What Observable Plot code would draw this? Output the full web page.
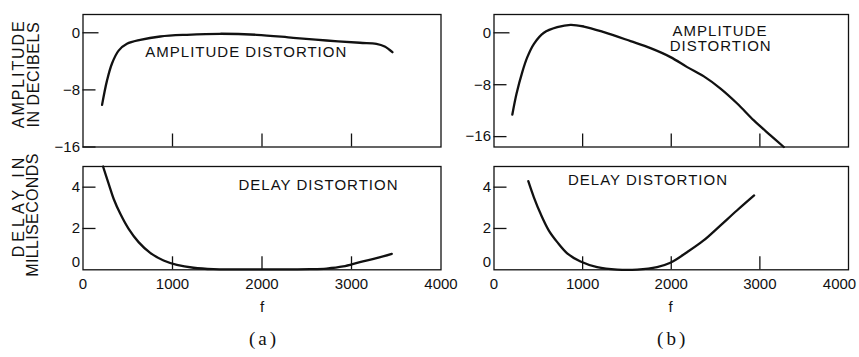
<!DOCTYPE html>
<html>
<head>
<meta charset="utf-8">
<script src="https://cdn.jsdelivr.net/npm/d3@7"></script>
<script src="https://cdn.jsdelivr.net/npm/@observablehq/plot@0.6"></script>
<style>
  body { margin: 0; background: #fff; }
  #fig { position: relative; width: 859px; height: 357px; }
  #fig svg { position: absolute; left: 0; top: 0; overflow: visible; }
</style>
</head>
<body>
<div id="fig"></div>
<script>
// (a) amplitude distortion, dB vs frequency (Hz)
const ampFreqA = [213, 268, 324, 398, 491, 640, 863, 1160, 1532, 1941, 2349, 2721, 3093, 3278, 3371, 3457];
const ampDbA   = [-10.1, -6.7, -4.3, -2.5, -1.55, -1.0, -0.52, -0.28, -0.14, -0.28, -0.7, -1.08, -1.4, -1.54, -1.92, -2.72];

// (b) amplitude distortion
const ampFreqB = [207, 254, 319, 376, 451, 563, 714, 864, 1014, 1240, 1541, 1766, 1992, 2180, 2368, 2556, 2744, 2932, 3120, 3270];
const ampDbB   = [-12.6, -9.4, -6.05, -3.75, -1.7, 0, 0.86, 1.23, 0.97, 0.1, -1.29, -2.37, -3.75, -5.29, -6.72, -8.6, -10.9, -13.5, -15.8, -17.6];

// (a) delay distortion, ms
const delayFreqA = [224, 287, 342, 417, 510, 621, 751, 900, 1049, 1234, 1457, 1700, 2000, 2300, 2535, 2721, 2907, 3093, 3279, 3450];
const delayMsA   = [5.0, 4.16, 3.44, 2.71, 1.98, 1.34, 0.82, 0.45, 0.24, 0.1, 0.03, 0.02, 0.02, 0.02, 0.03, 0.06, 0.16, 0.37, 0.56, 0.77];

// (b) delay distortion
const delayFreqB = [387, 450, 526, 619, 714, 826, 976, 1164, 1390, 1615, 1840, 1990, 2178, 2365, 2553, 2741, 2935];
const delayMsB   = [4.29, 3.51, 2.71, 1.9, 1.34, 0.8, 0.4, 0.13, 0.01, 0.01, 0.13, 0.34, 0.85, 1.42, 2.14, 2.87, 3.6];

// axis ticks
const freqTicks = [0, 1000, 2000, 3000, 4000];
const innerFreqTicks = [1000, 2000, 3000];
const dbTicks = [0, -8, -16];
const msTicks = [0, 2, 4];

const W = 859, H = 357;
const INK = "#111";
const SANS = "Liberation Sans, Arial, Helvetica, sans-serif";
const SERIF = "Liberation Serif, Times New Roman, serif";

const rows = (fs, vs) => fs.map((f, i) => ({f, v: vs[i]}));
const plain = d => String(d);

// letter spacing applied to specific labels after rendering
const spacing = {
  "AMPLITUDE DISTORTION": 1, "AMPLITUDE": 1, "DISTORTION": 1, "DELAY DISTORTION": 1,
  "(a)": 3, "(b)": 3
};
const titleSpacing = {"AMPLITUDE": 1.9, "IN DECIBELS": 0.55, "DELAY IN": 4, "MILLISECONDS": 0.35};

function label(text, dx, dy, opts = {}) {
  return Plot.text([text], {
    text: d => d, frameAnchor: "top-left", dx, dy,
    textAnchor: "middle", lineAnchor: "middle", fill: INK, fontSize: 15, ...opts
  });
}

function panel({frame, yDomain, series, yAxes, xAxes, extras = []}) {
  return Plot.plot({
    width: W, height: H,
    marginLeft: frame.left, marginRight: W - frame.right,
    marginTop: frame.top, marginBottom: H - frame.bottom,
    style: {fontFamily: SANS, fontSize: "15px", color: INK, background: "transparent", overflow: "visible"},
    x: {domain: [0, 4000], axis: null, label: null},
    y: {domain: yDomain, axis: null, label: null},
    marks: [
      Plot.frame({stroke: INK, strokeWidth: 1.3}),
      ...yAxes, ...xAxes,
      Plot.line(series, {x: "f", y: "v", curve: "catmull-rom", stroke: INK, strokeWidth: 2.3}),
      ...extras
    ]
  });
}

const innerTicks = Plot.axisX(innerFreqTicks, {tickSize: -13, fill: "none", strokeWidth: 1.3, label: null});
const freqLabels = (lastShift) => [
  Plot.axisX(freqTicks.slice(0, -1), {tickSize: 0, tickPadding: 9, fontSize: 15, tickFormat: plain, label: null}),
  Plot.axisX(freqTicks.slice(-1), {tickSize: 0, tickPadding: 9, dx: lastShift, fontSize: 15, tickFormat: plain, label: null})
];
const dbY = [
  Plot.axisY(dbTicks.slice(0, 1), {tickSize: -16, tickPadding: 19, strokeWidth: 1.3, fontSize: 15, label: null}),
  Plot.axisY(dbTicks.slice(1), {tickSize: -13, tickPadding: 16, strokeWidth: 1.3, fontSize: 15, label: null})
];
const msY = [
  Plot.axisY(msTicks.slice(1), {tickSize: -13, tickPadding: 16, strokeWidth: 1.3, fontSize: 15, tickFormat: plain, label: null}),
  Plot.axisY(msTicks.slice(0, 1), {tickSize: 0, tickPadding: 3, dy: -7.5, fontSize: 15, tickFormat: plain, label: null})
];

const leftCol = {left: 82.5, right: 440.5};
const rightCol = {left: 493.5, right: 848};
const topRow = {top: 14, bottom: 146.5};
const bottomRow = {top: 166, bottom: 269.3};

const charts = [
  panel({
    frame: {...leftCol, ...topRow}, yDomain: [-16, 2.56],
    series: rows(ampFreqA, ampDbA), yAxes: dbY, xAxes: [innerTicks],
    extras: [
      label("AMPLITUDE DISTORTION", 163.3, 38),
      label("AMPLITUDE", -64.3, 59.3, {rotate: -90, fontSize: 16}),
      label("IN DECIBELS", -49.3, 60.2, {rotate: -90, fontSize: 16})
    ]
  }),
  panel({
    frame: {...rightCol, ...topRow}, yDomain: [-17.6, 2.82],
    series: rows(ampFreqB, ampDbB), yAxes: dbY, xAxes: [innerTicks],
    extras: [
      label("AMPLITUDE", 226, 16.5),
      label("DISTORTION", 226.7, 31.8)
    ]
  }),
  panel({
    frame: {...leftCol, ...bottomRow}, yDomain: [0, 5],
    series: rows(delayFreqA, delayMsA), yAxes: msY, xAxes: [innerTicks, ...freqLabels(0)],
    extras: [
      label("DELAY DISTORTION", 235.5, 19),
      label("DELAY IN", -64.5, 39, {rotate: -90, fontSize: 16}),
      label("MILLISECONDS", -50, 48.5, {rotate: -90, fontSize: 16}),
      label("f", 179.2, 140.7),
      label("(a)", 181, 172, {fontFamily: SERIF, fontSize: 19})
    ]
  }),
  panel({
    frame: {...rightCol, ...bottomRow}, yDomain: [0, 5],
    series: rows(delayFreqB, delayMsB), yAxes: msY, xAxes: [innerTicks, ...freqLabels(-9)],
    extras: [
      label("DELAY DISTORTION", 154, 14),
      label("f", 176.5, 140.7),
      label("(b)", 178.7, 172, {fontFamily: SERIF, fontSize: 19})
    ]
  })
];

const fig = document.getElementById("fig");
charts.forEach(svg => {
  d3.select(svg).selectAll("text").each(function () {
    const t = this.textContent;
    const rotated = (this.getAttribute("transform") || "").includes("rotate");
    const ls = rotated ? titleSpacing[t] : spacing[t];
    if (ls) this.setAttribute("letter-spacing", ls);
  });
  fig.appendChild(svg);
});
</script>
</body>
</html>
